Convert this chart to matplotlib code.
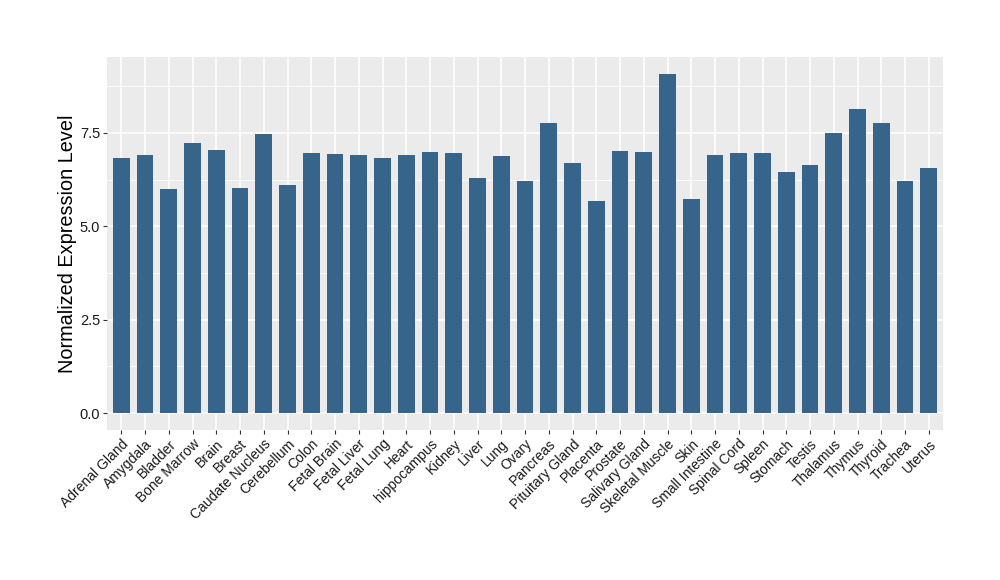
import numpy as np
import matplotlib
matplotlib.use("Agg")
import matplotlib.pyplot as plt
from matplotlib.ticker import MultipleLocator

tissues = ["Adrenal Gland", "Amygdala", "Bladder", "Bone Marrow", "Brain", "Breast",
           "Caudate Nucleus", "Cerebellum", "Colon", "Fetal Brain", "Fetal Liver",
           "Fetal Lung", "Heart", "hippocampus", "Kidney", "Liver", "Lung", "Ovary",
           "Pancreas", "Pituitary Gland", "Placenta", "Prostate", "Salivary Gland",
           "Skeletal Muscle", "Skin", "Small Intestine", "Spinal Cord", "Spleen",
           "Stomach", "Testis", "Thalamus", "Thymus", "Thyroid", "Trachea", "Uterus"]
expression = [6.83, 6.91, 6.00, 7.23, 7.05, 6.03,
              7.47, 6.11, 6.97, 6.94, 6.91,
              6.83, 6.91, 7.00, 6.97, 6.30, 6.88, 6.22,
              7.77, 6.69, 5.68, 7.02, 7.00,
              9.08, 5.73, 6.91, 6.97, 6.97,
              6.46, 6.65, 7.50, 8.14, 7.77, 6.22, 6.56]
ytick_vals = [0, 2.5, 5.0, 7.5]
ytick_labels = ["0.0", "2.5", "5.0", "7.5"]

plt.rcParams['font.family'] = ['Liberation Sans', 'DejaVu Sans']

fig = plt.figure(figsize=(10, 5.8), dpi=100)
ax = fig.add_axes([0.107, 0.2586, 0.836, 0.6431])
ax.set_facecolor('#EBEBEB')

x = np.arange(1, len(tissues) + 1)
ax.bar(x, expression, width=0.7, color='#36648B', zorder=3)

# ggplot-like expansion
ymax = max(expression)
pad = ymax * 0.05
ax.set_ylim(-pad, ymax + pad)
ax.set_xlim(0.4, len(tissues) + 0.6)

ax.set_yticks(ytick_vals)
ax.set_yticklabels(ytick_labels)
ax.yaxis.set_minor_locator(MultipleLocator(1.25))
ax.set_xticks(x)
ax.set_xticklabels(tissues, rotation=45, ha='right', va='top', rotation_mode='anchor')

ax.grid(which='major', color='white', linewidth=1.1, zorder=0)
ax.grid(which='minor', axis='y', color='white', linewidth=0.55, zorder=0)
ax.set_axisbelow(True)

for s in ax.spines.values():
    s.set_visible(False)

ax.tick_params(axis='both', which='major', length=3, width=0.8, color='#333333',
               labelcolor='#1A1A1A', labelsize=10.5, pad=2)
ax.tick_params(axis='x', which='major', labelsize=10)
ax.tick_params(axis='both', which='minor', length=0)

ax.set_ylabel("Normalized Expression Level", fontsize=14.3, color='black', labelpad=2)

fig.savefig("out.png", dpi=100)
